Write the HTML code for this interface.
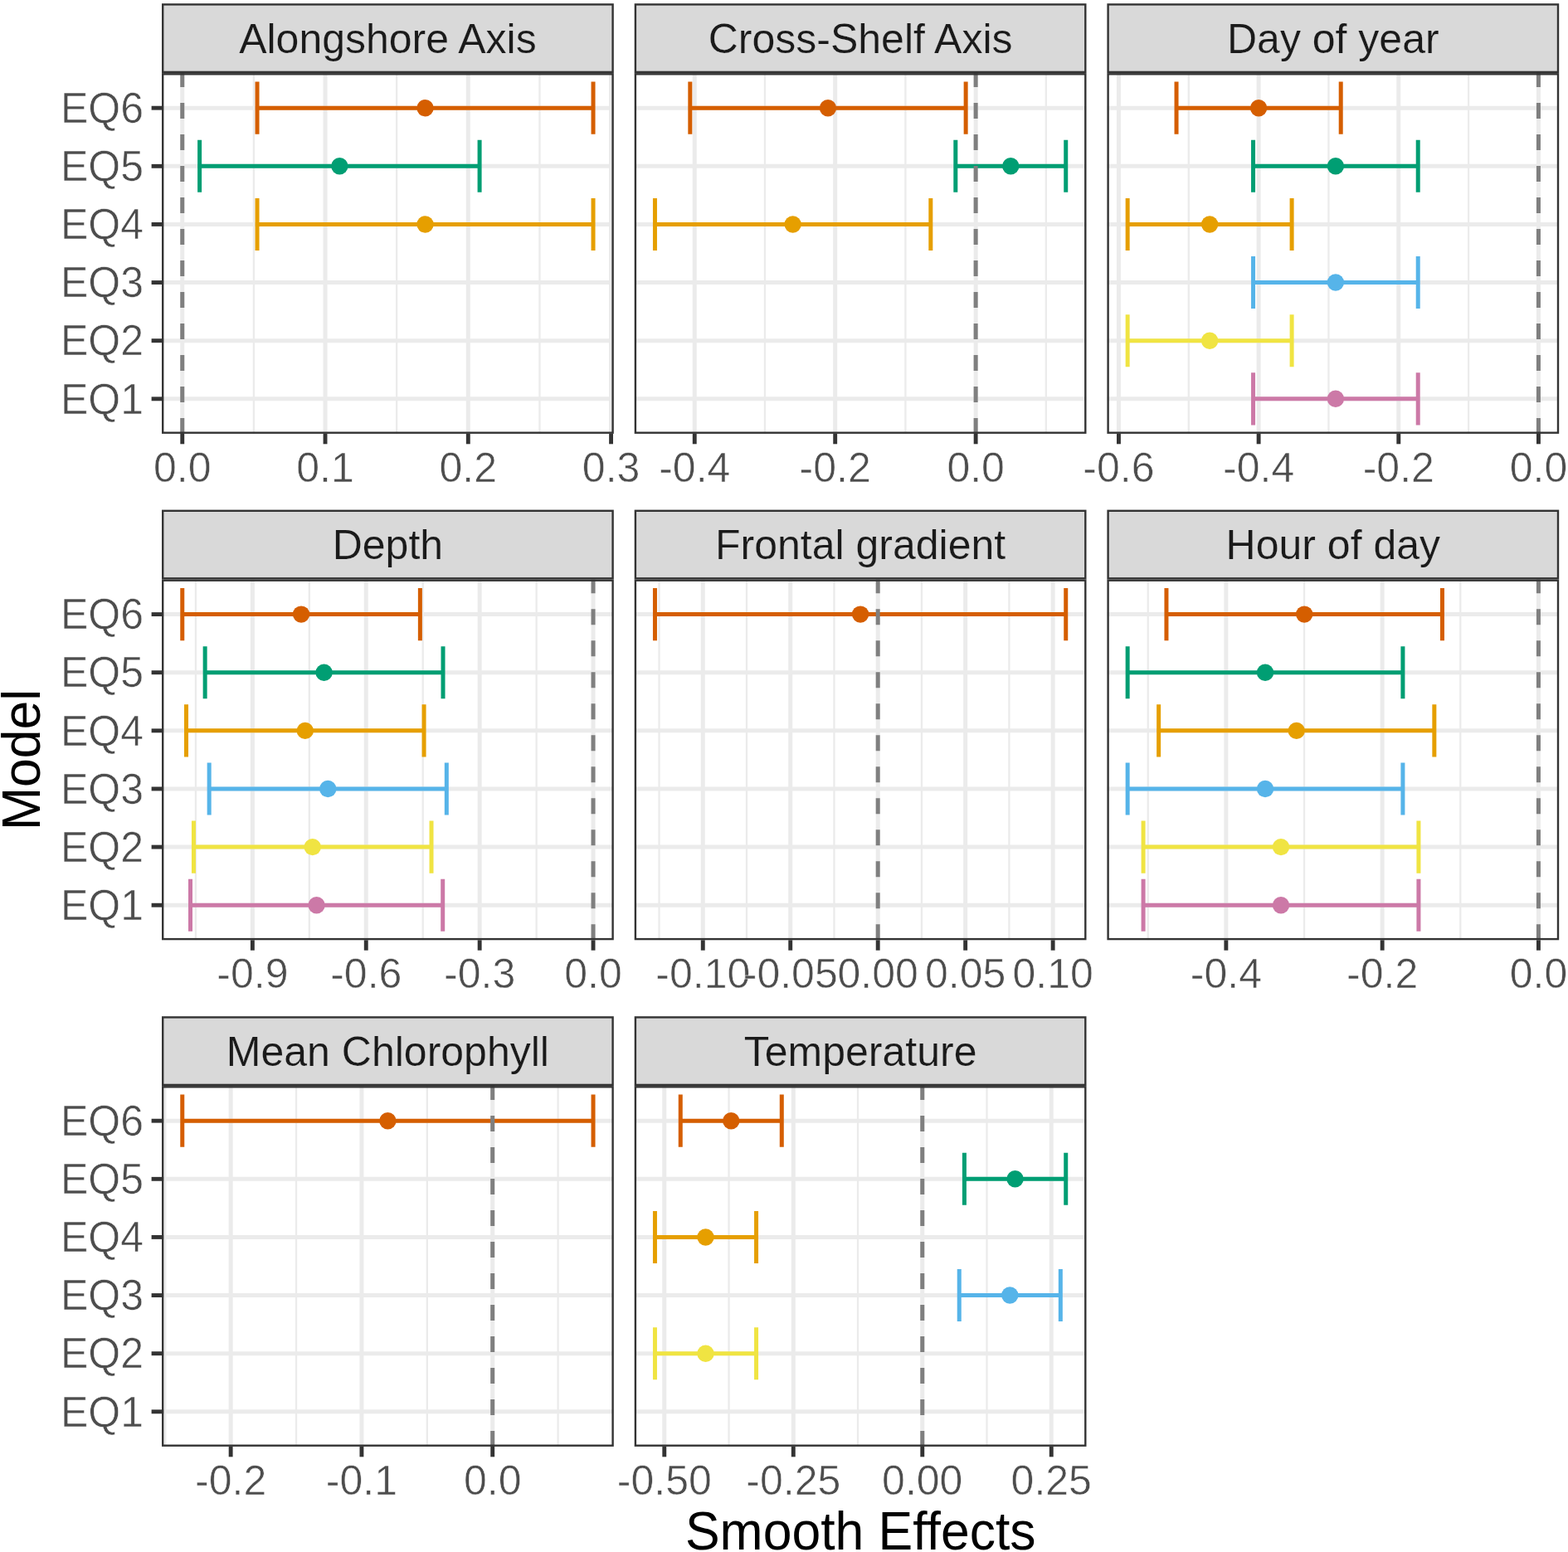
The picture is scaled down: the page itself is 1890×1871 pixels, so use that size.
<!DOCTYPE html><html><head><meta charset="utf-8"><style>html,body{margin:0;padding:0;background:#fff;}svg{display:block;}text{font-family:"Liberation Sans",Arial,Helvetica,sans-serif;}</style></head><body>
<svg width="1890" height="1871" viewBox="0 0 1890 1871">
<rect x="0" y="0" width="1890" height="1871" fill="#ffffff"/>
<clipPath id="c00"><rect x="195" y="88.1" width="544.8" height="434.8"/></clipPath>
<g clip-path="url(#c00)">
<line x1="305.9" y1="88.1" x2="305.9" y2="522.9" stroke="#EBEBEB" stroke-width="2.3"/>
<line x1="478.17" y1="88.1" x2="478.17" y2="522.9" stroke="#EBEBEB" stroke-width="2.3"/>
<line x1="650.44" y1="88.1" x2="650.44" y2="522.9" stroke="#EBEBEB" stroke-width="2.3"/>
<line x1="219.76" y1="88.1" x2="219.76" y2="522.9" stroke="#EBEBEB" stroke-width="5.0"/>
<line x1="392.03" y1="88.1" x2="392.03" y2="522.9" stroke="#EBEBEB" stroke-width="5.0"/>
<line x1="564.3" y1="88.1" x2="564.3" y2="522.9" stroke="#EBEBEB" stroke-width="5.0"/>
<line x1="736.57" y1="88.1" x2="736.57" y2="522.9" stroke="#EBEBEB" stroke-width="5.0"/>
<line x1="195" y1="480.82" x2="739.8" y2="480.82" stroke="#EBEBEB" stroke-width="5.0"/>
<line x1="195" y1="410.69" x2="739.8" y2="410.69" stroke="#EBEBEB" stroke-width="5.0"/>
<line x1="195" y1="340.56" x2="739.8" y2="340.56" stroke="#EBEBEB" stroke-width="5.0"/>
<line x1="195" y1="270.44" x2="739.8" y2="270.44" stroke="#EBEBEB" stroke-width="5.0"/>
<line x1="195" y1="200.31" x2="739.8" y2="200.31" stroke="#EBEBEB" stroke-width="5.0"/>
<line x1="195" y1="130.18" x2="739.8" y2="130.18" stroke="#EBEBEB" stroke-width="5.0"/>
<path d="M310.03 98.62V161.74M310.03 130.18H715.04M715.04 98.62V161.74" stroke="#D55E00" stroke-width="5.0" fill="none"/>
<path d="M240.61 168.75V231.86M240.61 200.31H578.08M578.08 168.75V231.86" stroke="#009E73" stroke-width="5.0" fill="none"/>
<path d="M310.03 238.88V301.99M310.03 270.44H715.04M715.04 238.88V301.99" stroke="#E69F00" stroke-width="5.0" fill="none"/>
<circle cx="512.53" cy="130.18" r="10.2" fill="#D55E00"/>
<circle cx="409.35" cy="200.31" r="10.2" fill="#009E73"/>
<circle cx="512.53" cy="270.44" r="10.2" fill="#E69F00"/>
<line x1="219.76" y1="522.9" x2="219.76" y2="88.1" stroke="#7F7F7F" stroke-width="5.0" stroke-dasharray="19 19"/>
</g>
<rect x="196.2" y="89.3" width="542.4" height="432.4" fill="none" stroke="#333333" stroke-width="2.4"/>
<rect x="196.2" y="5.4" width="542.4" height="81.5" fill="#D9D9D9" stroke="#333333" stroke-width="2.4"/>
<text transform="translate(467.4 63.8) scale(1 1.01)" font-size="50" fill="#1A1A1A" text-anchor="middle" stroke="#D9D9D9" stroke-width="0.2">Alongshore Axis</text>
<line x1="219.76" y1="522.9" x2="219.76" y2="535.3" stroke="#333333" stroke-width="4.9"/>
<text transform="translate(219.76 580.6)" font-size="50" fill="#4D4D4D" text-anchor="middle" stroke="#FFFFFF" stroke-width="0.55">0.0</text>
<line x1="392.03" y1="522.9" x2="392.03" y2="535.3" stroke="#333333" stroke-width="4.9"/>
<text transform="translate(392.03 580.6)" font-size="50" fill="#4D4D4D" text-anchor="middle" stroke="#FFFFFF" stroke-width="0.55">0.1</text>
<line x1="564.3" y1="522.9" x2="564.3" y2="535.3" stroke="#333333" stroke-width="4.9"/>
<text transform="translate(564.3 580.6)" font-size="50" fill="#4D4D4D" text-anchor="middle" stroke="#FFFFFF" stroke-width="0.55">0.2</text>
<line x1="736.57" y1="522.9" x2="736.57" y2="535.3" stroke="#333333" stroke-width="4.9"/>
<text transform="translate(736.57 580.6)" font-size="50" fill="#4D4D4D" text-anchor="middle" stroke="#FFFFFF" stroke-width="0.55">0.3</text>
<line x1="182.6" y1="480.82" x2="195" y2="480.82" stroke="#333333" stroke-width="4.9"/>
<text transform="translate(173 498.52) scale(1 1.025)" font-size="50" fill="#4D4D4D" text-anchor="end" stroke="#FFFFFF" stroke-width="0.55">EQ1</text>
<line x1="182.6" y1="410.69" x2="195" y2="410.69" stroke="#333333" stroke-width="4.9"/>
<text transform="translate(173 428.39) scale(1 1.025)" font-size="50" fill="#4D4D4D" text-anchor="end" stroke="#FFFFFF" stroke-width="0.55">EQ2</text>
<line x1="182.6" y1="340.56" x2="195" y2="340.56" stroke="#333333" stroke-width="4.9"/>
<text transform="translate(173 358.26) scale(1 1.025)" font-size="50" fill="#4D4D4D" text-anchor="end" stroke="#FFFFFF" stroke-width="0.55">EQ3</text>
<line x1="182.6" y1="270.44" x2="195" y2="270.44" stroke="#333333" stroke-width="4.9"/>
<text transform="translate(173 288.14) scale(1 1.025)" font-size="50" fill="#4D4D4D" text-anchor="end" stroke="#FFFFFF" stroke-width="0.55">EQ4</text>
<line x1="182.6" y1="200.31" x2="195" y2="200.31" stroke="#333333" stroke-width="4.9"/>
<text transform="translate(173 218.01) scale(1 1.025)" font-size="50" fill="#4D4D4D" text-anchor="end" stroke="#FFFFFF" stroke-width="0.55">EQ5</text>
<line x1="182.6" y1="130.18" x2="195" y2="130.18" stroke="#333333" stroke-width="4.9"/>
<text transform="translate(173 147.88) scale(1 1.025)" font-size="50" fill="#4D4D4D" text-anchor="end" stroke="#FFFFFF" stroke-width="0.55">EQ6</text>
<clipPath id="c01"><rect x="764.7" y="88.1" width="544.8" height="434.8"/></clipPath>
<g clip-path="url(#c01)">
<line x1="921.97" y1="88.1" x2="921.97" y2="522.9" stroke="#EBEBEB" stroke-width="2.3"/>
<line x1="1091.41" y1="88.1" x2="1091.41" y2="522.9" stroke="#EBEBEB" stroke-width="2.3"/>
<line x1="1260.85" y1="88.1" x2="1260.85" y2="522.9" stroke="#EBEBEB" stroke-width="2.3"/>
<line x1="837.25" y1="88.1" x2="837.25" y2="522.9" stroke="#EBEBEB" stroke-width="5.0"/>
<line x1="1006.69" y1="88.1" x2="1006.69" y2="522.9" stroke="#EBEBEB" stroke-width="5.0"/>
<line x1="1176.13" y1="88.1" x2="1176.13" y2="522.9" stroke="#EBEBEB" stroke-width="5.0"/>
<line x1="764.7" y1="480.82" x2="1309.5" y2="480.82" stroke="#EBEBEB" stroke-width="5.0"/>
<line x1="764.7" y1="410.69" x2="1309.5" y2="410.69" stroke="#EBEBEB" stroke-width="5.0"/>
<line x1="764.7" y1="340.56" x2="1309.5" y2="340.56" stroke="#EBEBEB" stroke-width="5.0"/>
<line x1="764.7" y1="270.44" x2="1309.5" y2="270.44" stroke="#EBEBEB" stroke-width="5.0"/>
<line x1="764.7" y1="200.31" x2="1309.5" y2="200.31" stroke="#EBEBEB" stroke-width="5.0"/>
<line x1="764.7" y1="130.18" x2="1309.5" y2="130.18" stroke="#EBEBEB" stroke-width="5.0"/>
<path d="M831.82 98.62V161.74M831.82 130.18H1164.14M1164.14 98.62V161.74" stroke="#D55E00" stroke-width="5.0" fill="none"/>
<path d="M1151.81 168.75V231.86M1151.81 200.31H1284.74M1284.74 168.75V231.86" stroke="#009E73" stroke-width="5.0" fill="none"/>
<path d="M789.46 238.88V301.99M789.46 270.44H1121.82M1121.82 238.88V301.99" stroke="#E69F00" stroke-width="5.0" fill="none"/>
<circle cx="997.98" cy="130.18" r="10.2" fill="#D55E00"/>
<circle cx="1218.27" cy="200.31" r="10.2" fill="#009E73"/>
<circle cx="955.64" cy="270.44" r="10.2" fill="#E69F00"/>
<line x1="1176.13" y1="522.9" x2="1176.13" y2="88.1" stroke="#7F7F7F" stroke-width="5.0" stroke-dasharray="19 19"/>
</g>
<rect x="765.9" y="89.3" width="542.4" height="432.4" fill="none" stroke="#333333" stroke-width="2.4"/>
<rect x="765.9" y="5.4" width="542.4" height="81.5" fill="#D9D9D9" stroke="#333333" stroke-width="2.4"/>
<text transform="translate(1037.1 63.8) scale(1 1.01)" font-size="50" fill="#1A1A1A" text-anchor="middle" stroke="#D9D9D9" stroke-width="0.2">Cross-Shelf Axis</text>
<line x1="837.25" y1="522.9" x2="837.25" y2="535.3" stroke="#333333" stroke-width="4.9"/>
<text transform="translate(837.25 580.6)" font-size="50" fill="#4D4D4D" text-anchor="middle" stroke="#FFFFFF" stroke-width="0.55">-0.4</text>
<line x1="1006.69" y1="522.9" x2="1006.69" y2="535.3" stroke="#333333" stroke-width="4.9"/>
<text transform="translate(1006.69 580.6)" font-size="50" fill="#4D4D4D" text-anchor="middle" stroke="#FFFFFF" stroke-width="0.55">-0.2</text>
<line x1="1176.13" y1="522.9" x2="1176.13" y2="535.3" stroke="#333333" stroke-width="4.9"/>
<text transform="translate(1176.13 580.6)" font-size="50" fill="#4D4D4D" text-anchor="middle" stroke="#FFFFFF" stroke-width="0.55">0.0</text>
<clipPath id="c02"><rect x="1334.4" y="88.1" width="544.8" height="434.8"/></clipPath>
<g clip-path="url(#c02)">
<line x1="1432.78" y1="88.1" x2="1432.78" y2="522.9" stroke="#EBEBEB" stroke-width="2.3"/>
<line x1="1601.45" y1="88.1" x2="1601.45" y2="522.9" stroke="#EBEBEB" stroke-width="2.3"/>
<line x1="1770.11" y1="88.1" x2="1770.11" y2="522.9" stroke="#EBEBEB" stroke-width="2.3"/>
<line x1="1348.45" y1="88.1" x2="1348.45" y2="522.9" stroke="#EBEBEB" stroke-width="5.0"/>
<line x1="1517.11" y1="88.1" x2="1517.11" y2="522.9" stroke="#EBEBEB" stroke-width="5.0"/>
<line x1="1685.78" y1="88.1" x2="1685.78" y2="522.9" stroke="#EBEBEB" stroke-width="5.0"/>
<line x1="1854.44" y1="88.1" x2="1854.44" y2="522.9" stroke="#EBEBEB" stroke-width="5.0"/>
<line x1="1334.4" y1="480.82" x2="1879.2" y2="480.82" stroke="#EBEBEB" stroke-width="5.0"/>
<line x1="1334.4" y1="410.69" x2="1879.2" y2="410.69" stroke="#EBEBEB" stroke-width="5.0"/>
<line x1="1334.4" y1="340.56" x2="1879.2" y2="340.56" stroke="#EBEBEB" stroke-width="5.0"/>
<line x1="1334.4" y1="270.44" x2="1879.2" y2="270.44" stroke="#EBEBEB" stroke-width="5.0"/>
<line x1="1334.4" y1="200.31" x2="1879.2" y2="200.31" stroke="#EBEBEB" stroke-width="5.0"/>
<line x1="1334.4" y1="130.18" x2="1879.2" y2="130.18" stroke="#EBEBEB" stroke-width="5.0"/>
<path d="M1418.03 98.62V161.74M1418.03 130.18H1616.2M1616.2 98.62V161.74" stroke="#D55E00" stroke-width="5.0" fill="none"/>
<path d="M1510.54 168.75V231.86M1510.54 200.31H1709.22M1709.22 168.75V231.86" stroke="#009E73" stroke-width="5.0" fill="none"/>
<path d="M1359.16 238.88V301.99M1359.16 270.44H1557.09M1557.09 238.88V301.99" stroke="#E69F00" stroke-width="5.0" fill="none"/>
<path d="M1510.54 309.01V372.12M1510.54 340.56H1709.22M1709.22 309.01V372.12" stroke="#56B4E9" stroke-width="5.0" fill="none"/>
<path d="M1359.16 379.14V442.25M1359.16 410.69H1557.09M1557.09 379.14V442.25" stroke="#F0E442" stroke-width="5.0" fill="none"/>
<path d="M1510.54 449.26V512.38M1510.54 480.82H1709.22M1709.22 449.26V512.38" stroke="#CC79A7" stroke-width="5.0" fill="none"/>
<circle cx="1517.11" cy="130.18" r="10.2" fill="#D55E00"/>
<circle cx="1609.88" cy="200.31" r="10.2" fill="#009E73"/>
<circle cx="1458.13" cy="270.44" r="10.2" fill="#E69F00"/>
<circle cx="1609.88" cy="340.56" r="10.2" fill="#56B4E9"/>
<circle cx="1458.13" cy="410.69" r="10.2" fill="#F0E442"/>
<circle cx="1609.88" cy="480.82" r="10.2" fill="#CC79A7"/>
<line x1="1854.44" y1="522.9" x2="1854.44" y2="88.1" stroke="#7F7F7F" stroke-width="5.0" stroke-dasharray="19 19"/>
</g>
<rect x="1335.6" y="89.3" width="542.4" height="432.4" fill="none" stroke="#333333" stroke-width="2.4"/>
<rect x="1335.6" y="5.4" width="542.4" height="81.5" fill="#D9D9D9" stroke="#333333" stroke-width="2.4"/>
<text transform="translate(1606.8 63.8) scale(1 1.01)" font-size="50" fill="#1A1A1A" text-anchor="middle" stroke="#D9D9D9" stroke-width="0.2">Day of year</text>
<line x1="1348.45" y1="522.9" x2="1348.45" y2="535.3" stroke="#333333" stroke-width="4.9"/>
<text transform="translate(1348.45 580.6)" font-size="50" fill="#4D4D4D" text-anchor="middle" stroke="#FFFFFF" stroke-width="0.55">-0.6</text>
<line x1="1517.11" y1="522.9" x2="1517.11" y2="535.3" stroke="#333333" stroke-width="4.9"/>
<text transform="translate(1517.11 580.6)" font-size="50" fill="#4D4D4D" text-anchor="middle" stroke="#FFFFFF" stroke-width="0.55">-0.4</text>
<line x1="1685.78" y1="522.9" x2="1685.78" y2="535.3" stroke="#333333" stroke-width="4.9"/>
<text transform="translate(1685.78 580.6)" font-size="50" fill="#4D4D4D" text-anchor="middle" stroke="#FFFFFF" stroke-width="0.55">-0.2</text>
<line x1="1854.44" y1="522.9" x2="1854.44" y2="535.3" stroke="#333333" stroke-width="4.9"/>
<text transform="translate(1854.44 580.6)" font-size="50" fill="#4D4D4D" text-anchor="middle" stroke="#FFFFFF" stroke-width="0.55">0.0</text>
<clipPath id="c10"><rect x="195" y="698.5" width="544.8" height="434.8"/></clipPath>
<g clip-path="url(#c10)">
<line x1="235.92" y1="698.5" x2="235.92" y2="1133.3" stroke="#EBEBEB" stroke-width="2.3"/>
<line x1="372.81" y1="698.5" x2="372.81" y2="1133.3" stroke="#EBEBEB" stroke-width="2.3"/>
<line x1="509.7" y1="698.5" x2="509.7" y2="1133.3" stroke="#EBEBEB" stroke-width="2.3"/>
<line x1="646.59" y1="698.5" x2="646.59" y2="1133.3" stroke="#EBEBEB" stroke-width="2.3"/>
<line x1="304.36" y1="698.5" x2="304.36" y2="1133.3" stroke="#EBEBEB" stroke-width="5.0"/>
<line x1="441.25" y1="698.5" x2="441.25" y2="1133.3" stroke="#EBEBEB" stroke-width="5.0"/>
<line x1="578.15" y1="698.5" x2="578.15" y2="1133.3" stroke="#EBEBEB" stroke-width="5.0"/>
<line x1="715.04" y1="698.5" x2="715.04" y2="1133.3" stroke="#EBEBEB" stroke-width="5.0"/>
<line x1="195" y1="1091.22" x2="739.8" y2="1091.22" stroke="#EBEBEB" stroke-width="5.0"/>
<line x1="195" y1="1021.09" x2="739.8" y2="1021.09" stroke="#EBEBEB" stroke-width="5.0"/>
<line x1="195" y1="950.96" x2="739.8" y2="950.96" stroke="#EBEBEB" stroke-width="5.0"/>
<line x1="195" y1="880.84" x2="739.8" y2="880.84" stroke="#EBEBEB" stroke-width="5.0"/>
<line x1="195" y1="810.71" x2="739.8" y2="810.71" stroke="#EBEBEB" stroke-width="5.0"/>
<line x1="195" y1="740.58" x2="739.8" y2="740.58" stroke="#EBEBEB" stroke-width="5.0"/>
<path d="M219.76 709.02V772.14M219.76 740.58H506.37M506.37 709.02V772.14" stroke="#D55E00" stroke-width="5.0" fill="none"/>
<path d="M247.14 779.15V842.26M247.14 810.71H534.02M534.02 779.15V842.26" stroke="#009E73" stroke-width="5.0" fill="none"/>
<path d="M224.51 849.28V912.39M224.51 880.84H511.07M511.07 849.28V912.39" stroke="#E69F00" stroke-width="5.0" fill="none"/>
<path d="M252.16 919.41V982.52M252.16 950.96H538.31M538.31 919.41V982.52" stroke="#56B4E9" stroke-width="5.0" fill="none"/>
<path d="M233.45 989.54V1052.65M233.45 1021.09H520.01M520.01 989.54V1052.65" stroke="#F0E442" stroke-width="5.0" fill="none"/>
<path d="M229.48 1059.66V1122.78M229.48 1091.22H533.7M533.7 1059.66V1122.78" stroke="#CC79A7" stroke-width="5.0" fill="none"/>
<circle cx="363.07" cy="740.58" r="10.2" fill="#D55E00"/>
<circle cx="390.58" cy="810.71" r="10.2" fill="#009E73"/>
<circle cx="367.79" cy="880.84" r="10.2" fill="#E69F00"/>
<circle cx="395.24" cy="950.96" r="10.2" fill="#56B4E9"/>
<circle cx="376.73" cy="1021.09" r="10.2" fill="#F0E442"/>
<circle cx="381.59" cy="1091.22" r="10.2" fill="#CC79A7"/>
<line x1="715.04" y1="1133.3" x2="715.04" y2="698.5" stroke="#7F7F7F" stroke-width="5.0" stroke-dasharray="19 19"/>
</g>
<rect x="196.2" y="699.7" width="542.4" height="432.4" fill="none" stroke="#333333" stroke-width="2.4"/>
<rect x="196.2" y="615.8" width="542.4" height="81.5" fill="#D9D9D9" stroke="#333333" stroke-width="2.4"/>
<text transform="translate(467.4 674.2) scale(1 1.01)" font-size="50" fill="#1A1A1A" text-anchor="middle" stroke="#D9D9D9" stroke-width="0.2">Depth</text>
<line x1="304.36" y1="1133.3" x2="304.36" y2="1145.7" stroke="#333333" stroke-width="4.9"/>
<text transform="translate(304.36 1191)" font-size="50" fill="#4D4D4D" text-anchor="middle" stroke="#FFFFFF" stroke-width="0.55">-0.9</text>
<line x1="441.25" y1="1133.3" x2="441.25" y2="1145.7" stroke="#333333" stroke-width="4.9"/>
<text transform="translate(441.25 1191)" font-size="50" fill="#4D4D4D" text-anchor="middle" stroke="#FFFFFF" stroke-width="0.55">-0.6</text>
<line x1="578.15" y1="1133.3" x2="578.15" y2="1145.7" stroke="#333333" stroke-width="4.9"/>
<text transform="translate(578.15 1191)" font-size="50" fill="#4D4D4D" text-anchor="middle" stroke="#FFFFFF" stroke-width="0.55">-0.3</text>
<line x1="715.04" y1="1133.3" x2="715.04" y2="1145.7" stroke="#333333" stroke-width="4.9"/>
<text transform="translate(715.04 1191)" font-size="50" fill="#4D4D4D" text-anchor="middle" stroke="#FFFFFF" stroke-width="0.55">0.0</text>
<line x1="182.6" y1="1091.22" x2="195" y2="1091.22" stroke="#333333" stroke-width="4.9"/>
<text transform="translate(173 1108.92) scale(1 1.025)" font-size="50" fill="#4D4D4D" text-anchor="end" stroke="#FFFFFF" stroke-width="0.55">EQ1</text>
<line x1="182.6" y1="1021.09" x2="195" y2="1021.09" stroke="#333333" stroke-width="4.9"/>
<text transform="translate(173 1038.79) scale(1 1.025)" font-size="50" fill="#4D4D4D" text-anchor="end" stroke="#FFFFFF" stroke-width="0.55">EQ2</text>
<line x1="182.6" y1="950.96" x2="195" y2="950.96" stroke="#333333" stroke-width="4.9"/>
<text transform="translate(173 968.66) scale(1 1.025)" font-size="50" fill="#4D4D4D" text-anchor="end" stroke="#FFFFFF" stroke-width="0.55">EQ3</text>
<line x1="182.6" y1="880.84" x2="195" y2="880.84" stroke="#333333" stroke-width="4.9"/>
<text transform="translate(173 898.54) scale(1 1.025)" font-size="50" fill="#4D4D4D" text-anchor="end" stroke="#FFFFFF" stroke-width="0.55">EQ4</text>
<line x1="182.6" y1="810.71" x2="195" y2="810.71" stroke="#333333" stroke-width="4.9"/>
<text transform="translate(173 828.41) scale(1 1.025)" font-size="50" fill="#4D4D4D" text-anchor="end" stroke="#FFFFFF" stroke-width="0.55">EQ5</text>
<line x1="182.6" y1="740.58" x2="195" y2="740.58" stroke="#333333" stroke-width="4.9"/>
<text transform="translate(173 758.28) scale(1 1.025)" font-size="50" fill="#4D4D4D" text-anchor="end" stroke="#FFFFFF" stroke-width="0.55">EQ6</text>
<clipPath id="c11"><rect x="764.7" y="698.5" width="544.8" height="434.8"/></clipPath>
<g clip-path="url(#c11)">
<line x1="794.53" y1="698.5" x2="794.53" y2="1133.3" stroke="#EBEBEB" stroke-width="2.3"/>
<line x1="899.99" y1="698.5" x2="899.99" y2="1133.3" stroke="#EBEBEB" stroke-width="2.3"/>
<line x1="1005.46" y1="698.5" x2="1005.46" y2="1133.3" stroke="#EBEBEB" stroke-width="2.3"/>
<line x1="1110.93" y1="698.5" x2="1110.93" y2="1133.3" stroke="#EBEBEB" stroke-width="2.3"/>
<line x1="1216.39" y1="698.5" x2="1216.39" y2="1133.3" stroke="#EBEBEB" stroke-width="2.3"/>
<line x1="847.26" y1="698.5" x2="847.26" y2="1133.3" stroke="#EBEBEB" stroke-width="5.0"/>
<line x1="952.73" y1="698.5" x2="952.73" y2="1133.3" stroke="#EBEBEB" stroke-width="5.0"/>
<line x1="1058.19" y1="698.5" x2="1058.19" y2="1133.3" stroke="#EBEBEB" stroke-width="5.0"/>
<line x1="1163.66" y1="698.5" x2="1163.66" y2="1133.3" stroke="#EBEBEB" stroke-width="5.0"/>
<line x1="1269.13" y1="698.5" x2="1269.13" y2="1133.3" stroke="#EBEBEB" stroke-width="5.0"/>
<line x1="764.7" y1="1091.22" x2="1309.5" y2="1091.22" stroke="#EBEBEB" stroke-width="5.0"/>
<line x1="764.7" y1="1021.09" x2="1309.5" y2="1021.09" stroke="#EBEBEB" stroke-width="5.0"/>
<line x1="764.7" y1="950.96" x2="1309.5" y2="950.96" stroke="#EBEBEB" stroke-width="5.0"/>
<line x1="764.7" y1="880.84" x2="1309.5" y2="880.84" stroke="#EBEBEB" stroke-width="5.0"/>
<line x1="764.7" y1="810.71" x2="1309.5" y2="810.71" stroke="#EBEBEB" stroke-width="5.0"/>
<line x1="764.7" y1="740.58" x2="1309.5" y2="740.58" stroke="#EBEBEB" stroke-width="5.0"/>
<path d="M789.46 709.02V772.14M789.46 740.58H1284.74M1284.74 709.02V772.14" stroke="#D55E00" stroke-width="5.0" fill="none"/>
<circle cx="1037.1" cy="740.58" r="10.2" fill="#D55E00"/>
<line x1="1058.19" y1="1133.3" x2="1058.19" y2="698.5" stroke="#7F7F7F" stroke-width="5.0" stroke-dasharray="19 19"/>
</g>
<rect x="765.9" y="699.7" width="542.4" height="432.4" fill="none" stroke="#333333" stroke-width="2.4"/>
<rect x="765.9" y="615.8" width="542.4" height="81.5" fill="#D9D9D9" stroke="#333333" stroke-width="2.4"/>
<text transform="translate(1037.1 674.2) scale(1 1.01)" font-size="50" fill="#1A1A1A" text-anchor="middle" stroke="#D9D9D9" stroke-width="0.2">Frontal gradient</text>
<line x1="847.26" y1="1133.3" x2="847.26" y2="1145.7" stroke="#333333" stroke-width="4.9"/>
<text transform="translate(847.26 1191)" font-size="50" fill="#4D4D4D" text-anchor="middle" stroke="#FFFFFF" stroke-width="0.55">-0.10</text>
<line x1="952.73" y1="1133.3" x2="952.73" y2="1145.7" stroke="#333333" stroke-width="4.9"/>
<text transform="translate(952.73 1191)" font-size="50" fill="#4D4D4D" text-anchor="middle" stroke="#FFFFFF" stroke-width="0.55">-0.05</text>
<line x1="1058.19" y1="1133.3" x2="1058.19" y2="1145.7" stroke="#333333" stroke-width="4.9"/>
<text transform="translate(1058.19 1191)" font-size="50" fill="#4D4D4D" text-anchor="middle" stroke="#FFFFFF" stroke-width="0.55">0.00</text>
<line x1="1163.66" y1="1133.3" x2="1163.66" y2="1145.7" stroke="#333333" stroke-width="4.9"/>
<text transform="translate(1163.66 1191)" font-size="50" fill="#4D4D4D" text-anchor="middle" stroke="#FFFFFF" stroke-width="0.55">0.05</text>
<line x1="1269.13" y1="1133.3" x2="1269.13" y2="1145.7" stroke="#333333" stroke-width="4.9"/>
<text transform="translate(1269.13 1191)" font-size="50" fill="#4D4D4D" text-anchor="middle" stroke="#FFFFFF" stroke-width="0.55">0.10</text>
<clipPath id="c12"><rect x="1334.4" y="698.5" width="544.8" height="434.8"/></clipPath>
<g clip-path="url(#c12)">
<line x1="1383.73" y1="698.5" x2="1383.73" y2="1133.3" stroke="#EBEBEB" stroke-width="2.3"/>
<line x1="1572.02" y1="698.5" x2="1572.02" y2="1133.3" stroke="#EBEBEB" stroke-width="2.3"/>
<line x1="1760.3" y1="698.5" x2="1760.3" y2="1133.3" stroke="#EBEBEB" stroke-width="2.3"/>
<line x1="1477.87" y1="698.5" x2="1477.87" y2="1133.3" stroke="#EBEBEB" stroke-width="5.0"/>
<line x1="1666.16" y1="698.5" x2="1666.16" y2="1133.3" stroke="#EBEBEB" stroke-width="5.0"/>
<line x1="1854.44" y1="698.5" x2="1854.44" y2="1133.3" stroke="#EBEBEB" stroke-width="5.0"/>
<line x1="1334.4" y1="1091.22" x2="1879.2" y2="1091.22" stroke="#EBEBEB" stroke-width="5.0"/>
<line x1="1334.4" y1="1021.09" x2="1879.2" y2="1021.09" stroke="#EBEBEB" stroke-width="5.0"/>
<line x1="1334.4" y1="950.96" x2="1879.2" y2="950.96" stroke="#EBEBEB" stroke-width="5.0"/>
<line x1="1334.4" y1="880.84" x2="1879.2" y2="880.84" stroke="#EBEBEB" stroke-width="5.0"/>
<line x1="1334.4" y1="810.71" x2="1879.2" y2="810.71" stroke="#EBEBEB" stroke-width="5.0"/>
<line x1="1334.4" y1="740.58" x2="1879.2" y2="740.58" stroke="#EBEBEB" stroke-width="5.0"/>
<path d="M1405.95 709.02V772.14M1405.95 740.58H1738.46M1738.46 709.02V772.14" stroke="#D55E00" stroke-width="5.0" fill="none"/>
<path d="M1359.16 779.15V842.26M1359.16 810.71H1690.91M1690.91 779.15V842.26" stroke="#009E73" stroke-width="5.0" fill="none"/>
<path d="M1396.63 849.28V912.39M1396.63 880.84H1728.85M1728.85 849.28V912.39" stroke="#E69F00" stroke-width="5.0" fill="none"/>
<path d="M1359.16 919.41V982.52M1359.16 950.96H1690.91M1690.91 919.41V982.52" stroke="#56B4E9" stroke-width="5.0" fill="none"/>
<path d="M1378.09 989.54V1052.65M1378.09 1021.09H1709.93M1709.93 989.54V1052.65" stroke="#F0E442" stroke-width="5.0" fill="none"/>
<path d="M1378.09 1059.66V1122.78M1378.09 1091.22H1709.93M1709.93 1059.66V1122.78" stroke="#CC79A7" stroke-width="5.0" fill="none"/>
<circle cx="1572.2" cy="740.58" r="10.2" fill="#D55E00"/>
<circle cx="1525.04" cy="810.71" r="10.2" fill="#009E73"/>
<circle cx="1562.74" cy="880.84" r="10.2" fill="#E69F00"/>
<circle cx="1525.04" cy="950.96" r="10.2" fill="#56B4E9"/>
<circle cx="1544.01" cy="1021.09" r="10.2" fill="#F0E442"/>
<circle cx="1544.01" cy="1091.22" r="10.2" fill="#CC79A7"/>
<line x1="1854.44" y1="1133.3" x2="1854.44" y2="698.5" stroke="#7F7F7F" stroke-width="5.0" stroke-dasharray="19 19"/>
</g>
<rect x="1335.6" y="699.7" width="542.4" height="432.4" fill="none" stroke="#333333" stroke-width="2.4"/>
<rect x="1335.6" y="615.8" width="542.4" height="81.5" fill="#D9D9D9" stroke="#333333" stroke-width="2.4"/>
<text transform="translate(1606.8 674.2) scale(1 1.01)" font-size="50" fill="#1A1A1A" text-anchor="middle" stroke="#D9D9D9" stroke-width="0.2">Hour of day</text>
<line x1="1477.87" y1="1133.3" x2="1477.87" y2="1145.7" stroke="#333333" stroke-width="4.9"/>
<text transform="translate(1477.87 1191)" font-size="50" fill="#4D4D4D" text-anchor="middle" stroke="#FFFFFF" stroke-width="0.55">-0.4</text>
<line x1="1666.16" y1="1133.3" x2="1666.16" y2="1145.7" stroke="#333333" stroke-width="4.9"/>
<text transform="translate(1666.16 1191)" font-size="50" fill="#4D4D4D" text-anchor="middle" stroke="#FFFFFF" stroke-width="0.55">-0.2</text>
<line x1="1854.44" y1="1133.3" x2="1854.44" y2="1145.7" stroke="#333333" stroke-width="4.9"/>
<text transform="translate(1854.44 1191)" font-size="50" fill="#4D4D4D" text-anchor="middle" stroke="#FFFFFF" stroke-width="0.55">0.0</text>
<clipPath id="c20"><rect x="195" y="1309.1" width="544.8" height="434.8"/></clipPath>
<g clip-path="url(#c20)">
<line x1="199.25" y1="1309.1" x2="199.25" y2="1743.9" stroke="#EBEBEB" stroke-width="2.3"/>
<line x1="357.03" y1="1309.1" x2="357.03" y2="1743.9" stroke="#EBEBEB" stroke-width="2.3"/>
<line x1="514.81" y1="1309.1" x2="514.81" y2="1743.9" stroke="#EBEBEB" stroke-width="2.3"/>
<line x1="672.59" y1="1309.1" x2="672.59" y2="1743.9" stroke="#EBEBEB" stroke-width="2.3"/>
<line x1="278.14" y1="1309.1" x2="278.14" y2="1743.9" stroke="#EBEBEB" stroke-width="5.0"/>
<line x1="435.92" y1="1309.1" x2="435.92" y2="1743.9" stroke="#EBEBEB" stroke-width="5.0"/>
<line x1="593.7" y1="1309.1" x2="593.7" y2="1743.9" stroke="#EBEBEB" stroke-width="5.0"/>
<line x1="195" y1="1701.82" x2="739.8" y2="1701.82" stroke="#EBEBEB" stroke-width="5.0"/>
<line x1="195" y1="1631.69" x2="739.8" y2="1631.69" stroke="#EBEBEB" stroke-width="5.0"/>
<line x1="195" y1="1561.56" x2="739.8" y2="1561.56" stroke="#EBEBEB" stroke-width="5.0"/>
<line x1="195" y1="1491.44" x2="739.8" y2="1491.44" stroke="#EBEBEB" stroke-width="5.0"/>
<line x1="195" y1="1421.31" x2="739.8" y2="1421.31" stroke="#EBEBEB" stroke-width="5.0"/>
<line x1="195" y1="1351.18" x2="739.8" y2="1351.18" stroke="#EBEBEB" stroke-width="5.0"/>
<path d="M219.76 1319.62V1382.74M219.76 1351.18H715.04M715.04 1319.62V1382.74" stroke="#D55E00" stroke-width="5.0" fill="none"/>
<circle cx="467.4" cy="1351.18" r="10.2" fill="#D55E00"/>
<line x1="593.7" y1="1743.9" x2="593.7" y2="1309.1" stroke="#7F7F7F" stroke-width="5.0" stroke-dasharray="19 19"/>
</g>
<rect x="196.2" y="1310.3" width="542.4" height="432.4" fill="none" stroke="#333333" stroke-width="2.4"/>
<rect x="196.2" y="1226.4" width="542.4" height="81.5" fill="#D9D9D9" stroke="#333333" stroke-width="2.4"/>
<text transform="translate(467.4 1284.8) scale(1 1.01)" font-size="50" fill="#1A1A1A" text-anchor="middle" stroke="#D9D9D9" stroke-width="0.2">Mean Chlorophyll</text>
<line x1="278.14" y1="1743.9" x2="278.14" y2="1756.3" stroke="#333333" stroke-width="4.9"/>
<text transform="translate(278.14 1801.6)" font-size="50" fill="#4D4D4D" text-anchor="middle" stroke="#FFFFFF" stroke-width="0.55">-0.2</text>
<line x1="435.92" y1="1743.9" x2="435.92" y2="1756.3" stroke="#333333" stroke-width="4.9"/>
<text transform="translate(435.92 1801.6)" font-size="50" fill="#4D4D4D" text-anchor="middle" stroke="#FFFFFF" stroke-width="0.55">-0.1</text>
<line x1="593.7" y1="1743.9" x2="593.7" y2="1756.3" stroke="#333333" stroke-width="4.9"/>
<text transform="translate(593.7 1801.6)" font-size="50" fill="#4D4D4D" text-anchor="middle" stroke="#FFFFFF" stroke-width="0.55">0.0</text>
<line x1="182.6" y1="1701.82" x2="195" y2="1701.82" stroke="#333333" stroke-width="4.9"/>
<text transform="translate(173 1719.52) scale(1 1.025)" font-size="50" fill="#4D4D4D" text-anchor="end" stroke="#FFFFFF" stroke-width="0.55">EQ1</text>
<line x1="182.6" y1="1631.69" x2="195" y2="1631.69" stroke="#333333" stroke-width="4.9"/>
<text transform="translate(173 1649.39) scale(1 1.025)" font-size="50" fill="#4D4D4D" text-anchor="end" stroke="#FFFFFF" stroke-width="0.55">EQ2</text>
<line x1="182.6" y1="1561.56" x2="195" y2="1561.56" stroke="#333333" stroke-width="4.9"/>
<text transform="translate(173 1579.26) scale(1 1.025)" font-size="50" fill="#4D4D4D" text-anchor="end" stroke="#FFFFFF" stroke-width="0.55">EQ3</text>
<line x1="182.6" y1="1491.44" x2="195" y2="1491.44" stroke="#333333" stroke-width="4.9"/>
<text transform="translate(173 1509.14) scale(1 1.025)" font-size="50" fill="#4D4D4D" text-anchor="end" stroke="#FFFFFF" stroke-width="0.55">EQ4</text>
<line x1="182.6" y1="1421.31" x2="195" y2="1421.31" stroke="#333333" stroke-width="4.9"/>
<text transform="translate(173 1439.01) scale(1 1.025)" font-size="50" fill="#4D4D4D" text-anchor="end" stroke="#FFFFFF" stroke-width="0.55">EQ5</text>
<line x1="182.6" y1="1351.18" x2="195" y2="1351.18" stroke="#333333" stroke-width="4.9"/>
<text transform="translate(173 1368.88) scale(1 1.025)" font-size="50" fill="#4D4D4D" text-anchor="end" stroke="#FFFFFF" stroke-width="0.55">EQ6</text>
<clipPath id="c21"><rect x="764.7" y="1309.1" width="544.8" height="434.8"/></clipPath>
<g clip-path="url(#c21)">
<line x1="878.53" y1="1309.1" x2="878.53" y2="1743.9" stroke="#EBEBEB" stroke-width="2.3"/>
<line x1="1034.02" y1="1309.1" x2="1034.02" y2="1743.9" stroke="#EBEBEB" stroke-width="2.3"/>
<line x1="1189.51" y1="1309.1" x2="1189.51" y2="1743.9" stroke="#EBEBEB" stroke-width="2.3"/>
<line x1="800.78" y1="1309.1" x2="800.78" y2="1743.9" stroke="#EBEBEB" stroke-width="5.0"/>
<line x1="956.28" y1="1309.1" x2="956.28" y2="1743.9" stroke="#EBEBEB" stroke-width="5.0"/>
<line x1="1111.77" y1="1309.1" x2="1111.77" y2="1743.9" stroke="#EBEBEB" stroke-width="5.0"/>
<line x1="1267.26" y1="1309.1" x2="1267.26" y2="1743.9" stroke="#EBEBEB" stroke-width="5.0"/>
<line x1="764.7" y1="1701.82" x2="1309.5" y2="1701.82" stroke="#EBEBEB" stroke-width="5.0"/>
<line x1="764.7" y1="1631.69" x2="1309.5" y2="1631.69" stroke="#EBEBEB" stroke-width="5.0"/>
<line x1="764.7" y1="1561.56" x2="1309.5" y2="1561.56" stroke="#EBEBEB" stroke-width="5.0"/>
<line x1="764.7" y1="1491.44" x2="1309.5" y2="1491.44" stroke="#EBEBEB" stroke-width="5.0"/>
<line x1="764.7" y1="1421.31" x2="1309.5" y2="1421.31" stroke="#EBEBEB" stroke-width="5.0"/>
<line x1="764.7" y1="1351.18" x2="1309.5" y2="1351.18" stroke="#EBEBEB" stroke-width="5.0"/>
<path d="M820.25 1319.62V1382.74M820.25 1351.18H942.28M942.28 1319.62V1382.74" stroke="#D55E00" stroke-width="5.0" fill="none"/>
<path d="M1162.4 1389.75V1452.86M1162.4 1421.31H1284.74M1284.74 1389.75V1452.86" stroke="#009E73" stroke-width="5.0" fill="none"/>
<path d="M789.46 1459.88V1522.99M789.46 1491.44H911.56M911.56 1459.88V1522.99" stroke="#E69F00" stroke-width="5.0" fill="none"/>
<path d="M1156.24 1530.01V1593.12M1156.24 1561.56H1278.33M1278.33 1530.01V1593.12" stroke="#56B4E9" stroke-width="5.0" fill="none"/>
<path d="M789.46 1600.14V1663.25M789.46 1631.69H911.56M911.56 1600.14V1663.25" stroke="#F0E442" stroke-width="5.0" fill="none"/>
<circle cx="881.27" cy="1351.18" r="10.2" fill="#D55E00"/>
<circle cx="1223.57" cy="1421.31" r="10.2" fill="#009E73"/>
<circle cx="850.51" cy="1491.44" r="10.2" fill="#E69F00"/>
<circle cx="1217.28" cy="1561.56" r="10.2" fill="#56B4E9"/>
<circle cx="850.51" cy="1631.69" r="10.2" fill="#F0E442"/>
<line x1="1111.77" y1="1743.9" x2="1111.77" y2="1309.1" stroke="#7F7F7F" stroke-width="5.0" stroke-dasharray="19 19"/>
</g>
<rect x="765.9" y="1310.3" width="542.4" height="432.4" fill="none" stroke="#333333" stroke-width="2.4"/>
<rect x="765.9" y="1226.4" width="542.4" height="81.5" fill="#D9D9D9" stroke="#333333" stroke-width="2.4"/>
<text transform="translate(1037.1 1284.8) scale(1 1.01)" font-size="50" fill="#1A1A1A" text-anchor="middle" stroke="#D9D9D9" stroke-width="0.2">Temperature</text>
<line x1="800.78" y1="1743.9" x2="800.78" y2="1756.3" stroke="#333333" stroke-width="4.9"/>
<text transform="translate(800.78 1801.6)" font-size="50" fill="#4D4D4D" text-anchor="middle" stroke="#FFFFFF" stroke-width="0.55">-0.50</text>
<line x1="956.28" y1="1743.9" x2="956.28" y2="1756.3" stroke="#333333" stroke-width="4.9"/>
<text transform="translate(956.28 1801.6)" font-size="50" fill="#4D4D4D" text-anchor="middle" stroke="#FFFFFF" stroke-width="0.55">-0.25</text>
<line x1="1111.77" y1="1743.9" x2="1111.77" y2="1756.3" stroke="#333333" stroke-width="4.9"/>
<text transform="translate(1111.77 1801.6)" font-size="50" fill="#4D4D4D" text-anchor="middle" stroke="#FFFFFF" stroke-width="0.55">0.00</text>
<line x1="1267.26" y1="1743.9" x2="1267.26" y2="1756.3" stroke="#333333" stroke-width="4.9"/>
<text transform="translate(1267.26 1801.6)" font-size="50" fill="#4D4D4D" text-anchor="middle" stroke="#FFFFFF" stroke-width="0.55">0.25</text>
<text transform="translate(1037.2 1867.5) scale(1 1.035)" font-size="62.5" fill="#000000" text-anchor="middle">Smooth Effects</text>
<text transform="translate(48.2 915.9) rotate(-90) scale(1 1.025)" font-size="62.5" fill="#000000" text-anchor="middle">Model</text>
</svg></body></html>
